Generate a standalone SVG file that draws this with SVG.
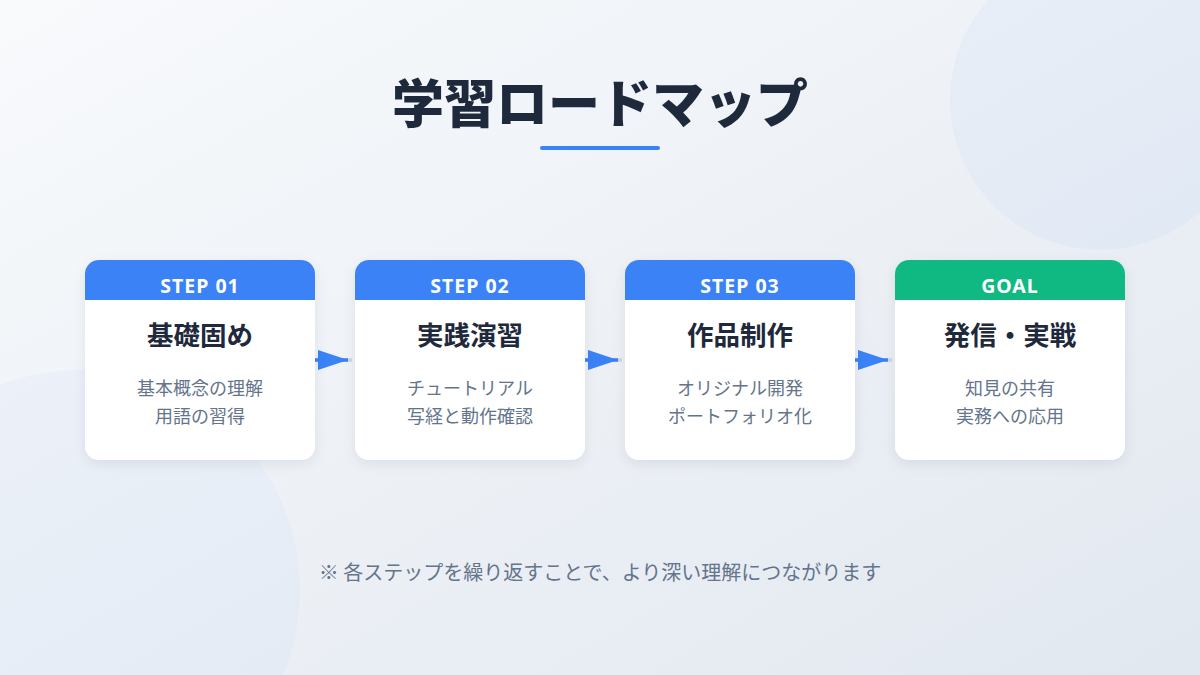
<svg xmlns="http://www.w3.org/2000/svg" width="1200" height="675" viewBox="0 0 1200 675">
<style>
.hdr{font-family:"Noto Sans","Noto Sans CJK JP",sans-serif;font-weight:700;font-size:19.5px;fill:#ffffff;text-anchor:middle;letter-spacing:1px}
.ttl{font-family:"Noto Sans CJK JP","Noto Sans",sans-serif;font-weight:700;font-size:26.5px;fill:#1e293b;text-anchor:middle}
.dsc{font-family:"Noto Sans CJK JP","Noto Sans",sans-serif;font-size:18px;fill:#64748b;text-anchor:middle}
.card{fill:#ffffff;filter:url(#sh)}
</style>
<defs>
<linearGradient id="bg" x1="0" y1="0" x2="1" y2="1">
<stop offset="0" stop-color="#f8fafc"/>
<stop offset="1" stop-color="#e2e8f0"/>
</linearGradient>
<filter id="sh" x="-20%" y="-20%" width="140%" height="150%">
<feDropShadow dx="0" dy="4" stdDeviation="6" flood-color="#1e293b" flood-opacity="0.08"/>
</filter>
<marker id="ah" markerWidth="30" markerHeight="20" refX="30" refY="10" orient="auto" markerUnits="userSpaceOnUse">
<path d="M0,0 L30,10 L0,20 Z" fill="#3b82f6"/>
</marker>
</defs>
<rect width="1200" height="675" fill="url(#bg)"/>
<circle cx="1100" cy="100" r="150" fill="#3b82f6" fill-opacity="0.04"/>
<circle cx="80" cy="590" r="220" fill="#3b82f6" fill-opacity="0.03"/>

<g id="title">
<text x="600" y="123" text-anchor="middle" font-family="Noto Sans CJK JP, Noto Sans, sans-serif" font-weight="900" font-size="52" fill="#1e293b">学習ロードマップ</text>
<rect x="540" y="146" width="120" height="4" rx="2" fill="#3b82f6"/>
</g>

<g id="connectors">
<line x1="315" y1="360" x2="352" y2="360" stroke="#cbd5e1" stroke-width="3.5"/>
<line x1="315" y1="360" x2="348" y2="360" stroke="#3b82f6" stroke-width="3.5" marker-end="url(#ah)"/>
<line x1="585" y1="360" x2="622" y2="360" stroke="#cbd5e1" stroke-width="3.5"/>
<line x1="585" y1="360" x2="618" y2="360" stroke="#3b82f6" stroke-width="3.5" marker-end="url(#ah)"/>
<line x1="855" y1="360" x2="892" y2="360" stroke="#cbd5e1" stroke-width="3.5"/>
<line x1="855" y1="360" x2="888" y2="360" stroke="#3b82f6" stroke-width="3.5" marker-end="url(#ah)"/>
</g>

<g id="step1">
<rect class="card" x="85" y="260" width="230" height="200" rx="14"/>
<path d="M85,300 V274 A14,14 0 0 1 99,260 H301 A14,14 0 0 1 315,274 V300 Z" fill="#3b82f6"/>
<text class="hdr" x="200" y="293">STEP 01</text>
<text class="ttl" x="200" y="345">基礎固め</text>
<text class="dsc" x="200" y="395">基本概念の理解</text>
<text class="dsc" x="200" y="423">用語の習得</text>
</g>

<g id="step2">
<rect class="card" x="355" y="260" width="230" height="200" rx="14"/>
<path d="M355,300 V274 A14,14 0 0 1 369,260 H571 A14,14 0 0 1 585,274 V300 Z" fill="#3b82f6"/>
<text class="hdr" x="470" y="293">STEP 02</text>
<text class="ttl" x="470" y="345">実践演習</text>
<text class="dsc" x="470" y="395">チュートリアル</text>
<text class="dsc" x="470" y="423">写経と動作確認</text>
</g>

<g id="step3">
<rect class="card" x="625" y="260" width="230" height="200" rx="14"/>
<path d="M625,300 V274 A14,14 0 0 1 639,260 H841 A14,14 0 0 1 855,274 V300 Z" fill="#3b82f6"/>
<text class="hdr" x="740" y="293">STEP 03</text>
<text class="ttl" x="740" y="345">作品制作</text>
<text class="dsc" x="740" y="395">オリジナル開発</text>
<text class="dsc" x="740" y="423">ポートフォリオ化</text>
</g>

<g id="goal">
<rect class="card" x="895" y="260" width="230" height="200" rx="14"/>
<path d="M895,300 V274 A14,14 0 0 1 909,260 H1111 A14,14 0 0 1 1125,274 V300 Z" fill="#10b981"/>
<text class="hdr" x="1010" y="293">GOAL</text>
<text class="ttl" x="1010" y="345">発信・実戦</text>
<text class="dsc" x="1010" y="395">知見の共有</text>
<text class="dsc" x="1010" y="423">実務への応用</text>
</g>

<g id="footer">
<text x="600" y="580" text-anchor="middle" font-family="Noto Sans CJK JP, Noto Sans, sans-serif" font-size="20" fill="#64748b">※ 各ステップを繰り返すことで、より深い理解につながります</text>
</g>
</svg>
